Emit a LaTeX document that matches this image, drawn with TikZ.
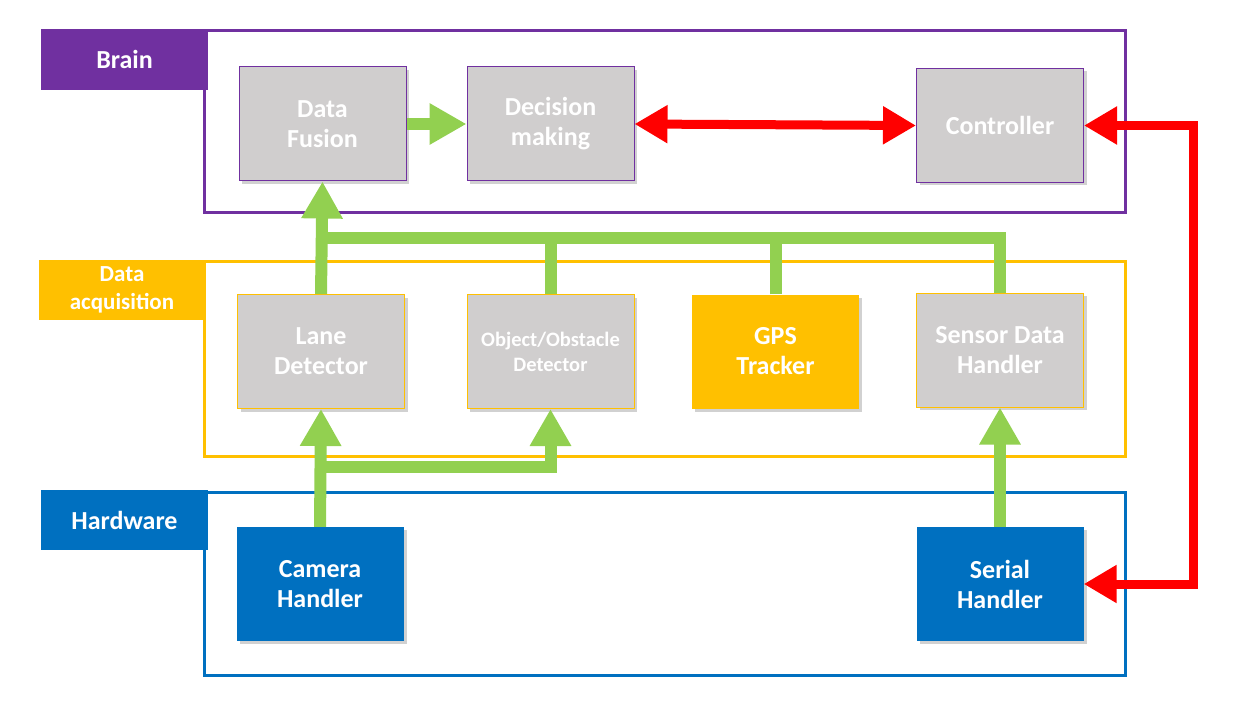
\documentclass[tikz,border=0pt]{standalone}
\usepackage{fontspec}
\setmainfont{Carlito}
\usetikzlibrary{arrows.meta,shadows}
\definecolor{brainpurple}{HTML}{7030A0}
\definecolor{acqgold}{HTML}{FFC000}
\definecolor{hwblue}{HTML}{0070C0}
\definecolor{boxgray}{HTML}{D0CECE}
\definecolor{flowgreen}{HTML}{92D050}
\definecolor{flowred}{HTML}{FF0000}
\begin{document}
\begin{tikzpicture}[x=1pt,y=-1pt,
  block/.style={rectangle,minimum width=167pt,minimum height=114pt,inner sep=0pt,align=center,
    text=white,font=\fontsize{26}{30}\selectfont\bfseries,
    drop shadow={shadow xshift=3pt,shadow yshift=-3pt,fill=black,opacity=0.18}},
  brainbox/.style={block,fill=boxgray,draw=brainpurple,line width=1pt},
  acqbox/.style={block,fill=boxgray,draw=acqgold,line width=1pt},
  gpsbox/.style={block,fill=acqgold},
  hwbox/.style={block,fill=hwblue},
  layer/.style={rectangle,minimum width=167pt,minimum height=61pt,inner sep=0pt,align=center,
    text=white,font=\fontsize{26}{28}\selectfont\bfseries},
  frame/.style={line width=3pt},
  greenline/.style={draw=flowgreen,line width=12pt,line join=miter},
  greenarrow/.style={greenline,-{Triangle[length=37pt,width=39pt]}},
  redarrow/.style={draw=flowred,line width=9pt,line join=miter,{Triangle[length=33pt,width=36pt]}-{Triangle[length=33pt,width=36pt]}}]
       \useasboundingbox (0,0) rectangle (1256,714);

       \draw[frame,brainpurple] (204,31) rectangle (1125,213);
       \draw[frame,acqgold] (204,262) rectangle (1125,456);
       \draw[frame,hwblue] (204,492) rectangle (1125,675);

       \node[layer,fill=brainpurple] (brainlbl) at (124.5,59.5) {Brain};
       \node[layer,fill=acqgold,minimum height=60pt,font=\fontsize{23}{28}\selectfont\bfseries] (acqlbl) at (122,290) {Data\\acquisition};
       \node[layer,fill=hwblue,minimum height=60pt] (hwlbl) at (124.5,520) {Hardware};

       \node[brainbox] (fusion) at (322.5,124) {Data\\Fusion};
       \node[brainbox] (decision) at (550.5,124) {Decision\\making};
       \node[brainbox] (controller) at (1000,125.5) {Controller};

       \node[acqbox] (lane) at (321,351.5) {Lane\\Detector};
       \node[acqbox,font=\fontsize{20.5}{25}\selectfont\bfseries] (object) at (550.5,351.5) {Object/Obstacle\\Detector};
       \node[gpsbox] (gps) at (775.5,351.5) {GPS\\Tracker};
       \node[acqbox] (sensor) at (1000,350) {Sensor Data\\Handler};

       \node[hwbox] (camera) at (320,584) {Camera\\Handler};
       \node[hwbox] (serial) at (1000,584) {Serial\\Handler};

       \coordinate (bus) at (321,238);
       \coordinate (branch) at (321,467);
       \coordinate (rail) at (1193,350);

       \draw[greenline] (object.north) |- (bus);
       \draw[greenline] (gps.north) |- (bus);
       \draw[greenline] (sensor.north) |- (bus);
       \draw[greenarrow] (lane.north) -- (fusion.south);
       \draw[greenarrow] (fusion.east) -- (decision.west);
       \draw[greenarrow] (branch) -| (object.south);
       \draw[greenarrow] (camera.north) -- (lane.south);
       \draw[greenarrow] (serial.north) -- (sensor.south);

       \draw[redarrow] (decision.east) -- (controller.west);
       \draw[redarrow] (controller.east) -- (controller.east -| rail) -- (serial.east -| rail) -- (serial.east);
    \end{tikzpicture}
\end{document}
